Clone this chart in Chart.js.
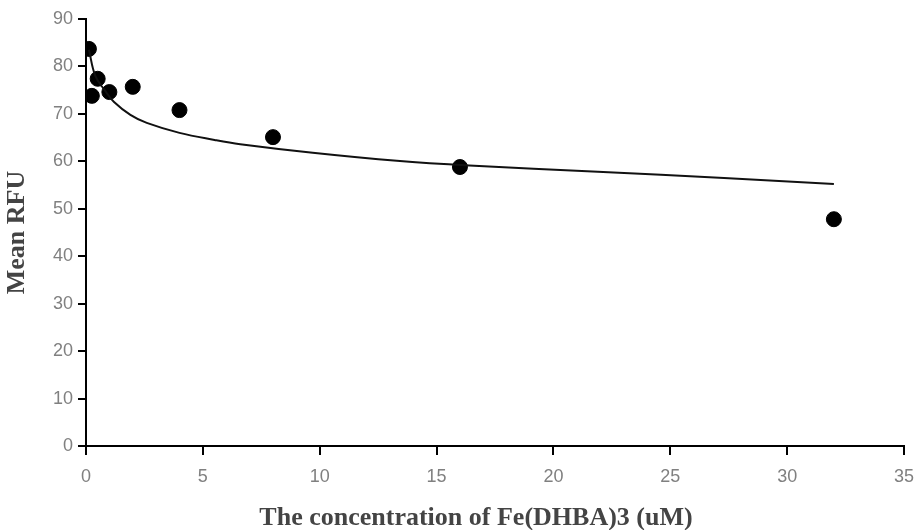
<!DOCTYPE html>
<html>
<head>
<meta charset="utf-8">
<script src="https://cdn.jsdelivr.net/npm/chart.js@4"></script>
<style>
  html, body { margin: 0; padding: 0; background: #fff; }
  #wrap { width: 918px; height: 530px; }
</style>
</head>
<body>
<div id="wrap"><canvas id="rfuChart"></canvas></div>
<script>
// measured points
const concX = [0.125, 0.25, 0.5, 1, 2, 4, 8, 16, 32];
const meanRFU = [83.7, 73.8, 77.4, 74.6, 75.7, 70.8, 65.1, 58.8, 47.8];

// fitted curve
const fitX = [0.125, 0.4, 0.8, 1.2, 1.9, 2.6, 4, 5.5, 6.6, 9.7, 13.3, 16.4, 21.9, 27.3, 32];
const fitY = [83.5, 78, 75, 72.5, 69.8, 68.1, 66, 64.5, 63.6, 61.8, 60.1, 59.1, 57.8, 56.5, 55.2];

const xTicks = [0, 5, 10, 15, 20, 25, 30, 35];
const yTicks = [0, 10, 20, 30, 40, 50, 60, 70, 80, 90];

const xTitle = 'The concentration of Fe(DHBA)3 (uM)';
const yTitle = 'Mean RFU';

document.addEventListener("DOMContentLoaded", function () {
    const ctx = document.getElementById('rfuChart').getContext('2d');
    const tickFont = { family: 'Liberation Sans', size: 18 };
    const titleFont = { family: 'Liberation Serif', size: 26, weight: 'bold' };

    // x title sits a bit left of the plot centre in the original
    const xTitlePlugin = {
        id: 'xTitle',
        afterDraw(chart) {
            const c = chart.ctx;
            const area = chart.chartArea;
            c.save();
            c.font = 'bold 26px "Liberation Serif"';
            c.fillStyle = '#444';
            c.textAlign = 'center';
            c.textBaseline = 'alphabetic';
            c.fillText(xTitle, (area.left + area.right) / 2 - 19, chart.height - 5);
            c.restore();
        }
    };

    new Chart(ctx, {
        type: 'scatter',
        data: {
            datasets: [{
                data: fitX.map((x, i) => ({ x: x, y: fitY[i] })),
                showLine: true,
                borderColor: '#111',
                borderWidth: 2,
                pointRadius: 0,
                tension: 0.4,
                fill: false
            }, {
                data: concX.map((x, i) => ({ x: x, y: meanRFU[i] })),
                backgroundColor: '#000',
                borderColor: '#000',
                pointRadius: 7.5,
                pointHoverRadius: 7.5
            }]
        },
        options: {
            responsive: true,
            maintainAspectRatio: false,
            animation: false,
            layout: { padding: { top: 19, right: 14, left: 0, bottom: 0 } },
            plugins: { legend: { display: false }, tooltip: { enabled: false } },
            scales: {
                x: {
                    type: 'linear',
                    min: 0, max: 35,
                    afterBuildTicks: s => { s.ticks = xTicks.map(v => ({ value: v })); },
                    afterFit: s => { s.height = 84; s.paddingRight = 10; s.paddingLeft = 0; },
                    grid: { drawOnChartArea: false, drawTicks: true, tickLength: 9, color: '#000', lineWidth: 2 },
                    border: { display: true, color: '#000', width: 2 },
                    ticks: { color: '#808080', font: tickFont, padding: 11 }
                },
                y: {
                    type: 'linear',
                    min: 0, max: 90,
                    afterBuildTicks: s => { s.ticks = yTicks.map(v => ({ value: v })); },
                    afterFit: s => { s.width = 86; },
                    grid: { drawOnChartArea: false, drawTicks: true, tickLength: 8, color: '#000', lineWidth: 2 },
                    border: { display: true, color: '#000', width: 2 },
                    ticks: { color: '#808080', font: tickFont, padding: 5 },
                    title: { display: true, text: yTitle, color: '#444', font: titleFont, padding: { top: 2, bottom: 0 } }
                }
            }
        },
        plugins: [xTitlePlugin]
    });
});
</script>
</body>
</html>
